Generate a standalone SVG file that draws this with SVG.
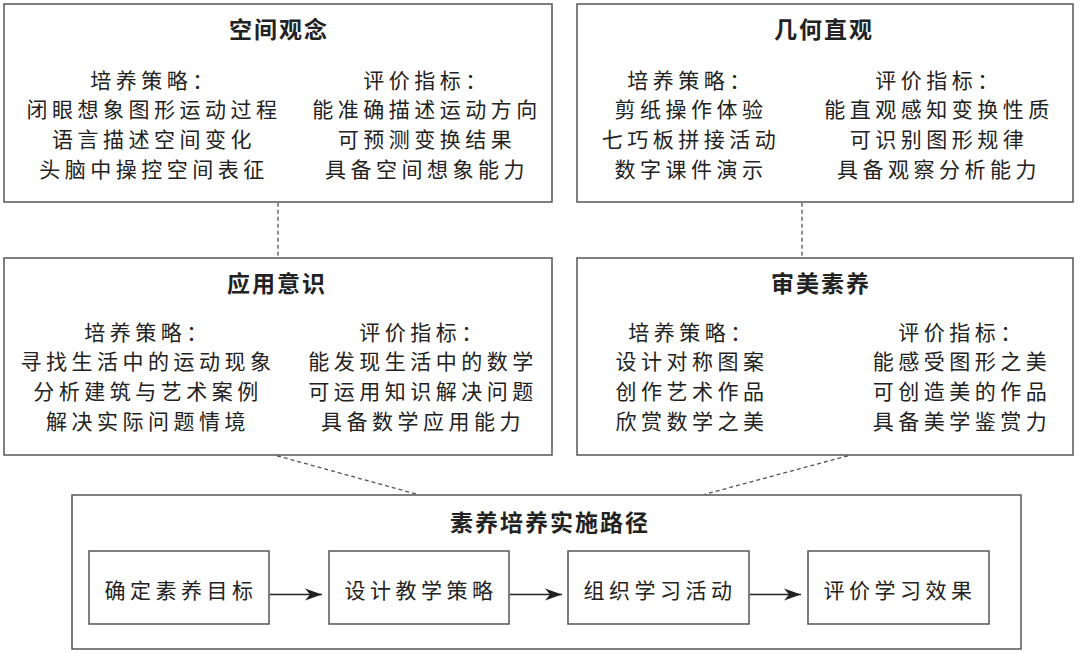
<svg xmlns="http://www.w3.org/2000/svg" width="1080" height="653" viewBox="0 0 1080 653">
<defs>
<style>
.box{fill:#fff;stroke:#555;stroke-width:1.5}
.ttl{font-family:"Noto Sans CJK SC","Noto Sans",sans-serif;font-size:23px;font-weight:bold;fill:#222;text-anchor:middle;letter-spacing:2px;dominant-baseline:central}
.txt{font-family:"Noto Sans CJK SC","Noto Sans",sans-serif;font-size:21px;fill:#222;text-anchor:middle;letter-spacing:4.5px;dominant-baseline:central}
.dash{fill:none;stroke:#555;stroke-width:1.3;stroke-dasharray:4 3}
.arr{fill:none;stroke:#222;stroke-width:1.5;marker-end:url(#ah)}
</style>
<marker id="ah" markerWidth="18" markerHeight="14" refX="17" refY="7" orient="auto" markerUnits="userSpaceOnUse">
<path d="M0,1 L17,7 L0,13 L5,7 Z" fill="#222"/>
</marker>
</defs>
<rect width="1080" height="653" fill="#fff"/>
<g id="node-kongjian">
<rect class="box" x="4" y="4" width="548" height="198"/>
<text class="ttl" x="279" y="27.5">空间观念</text>
<text class="txt" x="154" y="79">培养策略：</text>
<text class="txt" x="154" y="108">闭眼想象图形运动过程</text>
<text class="txt" x="154" y="137.5">语言描述空间变化</text>
<text class="txt" x="154" y="168">头脑中操控空间表征</text>
<text class="txt" x="427" y="79">评价指标：</text>
<text class="txt" x="427" y="108">能准确描述运动方向</text>
<text class="txt" x="427" y="137.5">可预测变换结果</text>
<text class="txt" x="427" y="168">具备空间想象能力</text>
</g>
<g id="node-jihe">
<rect class="box" x="577" y="4" width="496" height="198"/>
<text class="ttl" x="824" y="27.5">几何直观</text>
<text class="txt" x="691" y="79">培养策略：</text>
<text class="txt" x="691" y="108">剪纸操作体验</text>
<text class="txt" x="691" y="137.5">七巧板拼接活动</text>
<text class="txt" x="691" y="168">数字课件演示</text>
<text class="txt" x="939" y="79">评价指标：</text>
<text class="txt" x="939" y="108">能直观感知变换性质</text>
<text class="txt" x="939" y="137.5">可识别图形规律</text>
<text class="txt" x="939" y="168">具备观察分析能力</text>
</g>
<g id="node-yingyong">
<rect class="box" x="4" y="258" width="548" height="197"/>
<text class="ttl" x="277" y="282">应用意识</text>
<text class="txt" x="148" y="331">培养策略：</text>
<text class="txt" x="148" y="360">寻找生活中的运动现象</text>
<text class="txt" x="148" y="390">分析建筑与艺术案例</text>
<text class="txt" x="148" y="420">解决实际问题情境</text>
<text class="txt" x="423" y="331">评价指标：</text>
<text class="txt" x="423" y="360">能发现生活中的数学</text>
<text class="txt" x="423" y="390">可运用知识解决问题</text>
<text class="txt" x="423" y="420">具备数学应用能力</text>
</g>
<g id="node-shenmei">
<rect class="box" x="577" y="258" width="496" height="197"/>
<text class="ttl" x="821" y="282">审美素养</text>
<text class="txt" x="692" y="331">培养策略：</text>
<text class="txt" x="692" y="360">设计对称图案</text>
<text class="txt" x="692" y="390">创作艺术作品</text>
<text class="txt" x="692" y="420">欣赏数学之美</text>
<text class="txt" x="962" y="331">评价指标：</text>
<text class="txt" x="962" y="360">能感受图形之美</text>
<text class="txt" x="962" y="390">可创造美的作品</text>
<text class="txt" x="962" y="420">具备美学鉴赏力</text>
</g>
<g id="node-lujing">
<rect class="box" x="72" y="495" width="949" height="154"/>
<text class="ttl" x="550" y="521">素养培养实施路径</text>
</g>
<g id="node-step1">
<rect class="box" x="89" y="551" width="180" height="73"/>
<text class="txt" x="181" y="589">确定素养目标</text>
</g>
<g id="node-step2">
<rect class="box" x="329" y="551" width="180" height="73"/>
<text class="txt" x="421" y="589">设计教学策略</text>
</g>
<g id="node-step3">
<rect class="box" x="568" y="551" width="181" height="73"/>
<text class="txt" x="660" y="589">组织学习活动</text>
</g>
<g id="node-step4">
<rect class="box" x="808" y="551" width="181" height="73"/>
<text class="txt" x="900" y="589">评价学习效果</text>
</g>
<g id="connectors">
<line class="dash" x1="278" y1="202.75" x2="278" y2="257.25"/>
<line class="dash" x1="802" y1="202.75" x2="802" y2="257.25"/>
<line class="dash" x1="277" y1="455.75" x2="417" y2="494.25"/>
<line class="dash" x1="848" y1="455.75" x2="705" y2="494.25"/>
<line class="arr" x1="269.75" y1="594.5" x2="322" y2="594.5"/>
<line class="arr" x1="509.75" y1="594.5" x2="562" y2="594.5"/>
<line class="arr" x1="749.75" y1="594.5" x2="801" y2="594.5"/>
</g>
</svg>
